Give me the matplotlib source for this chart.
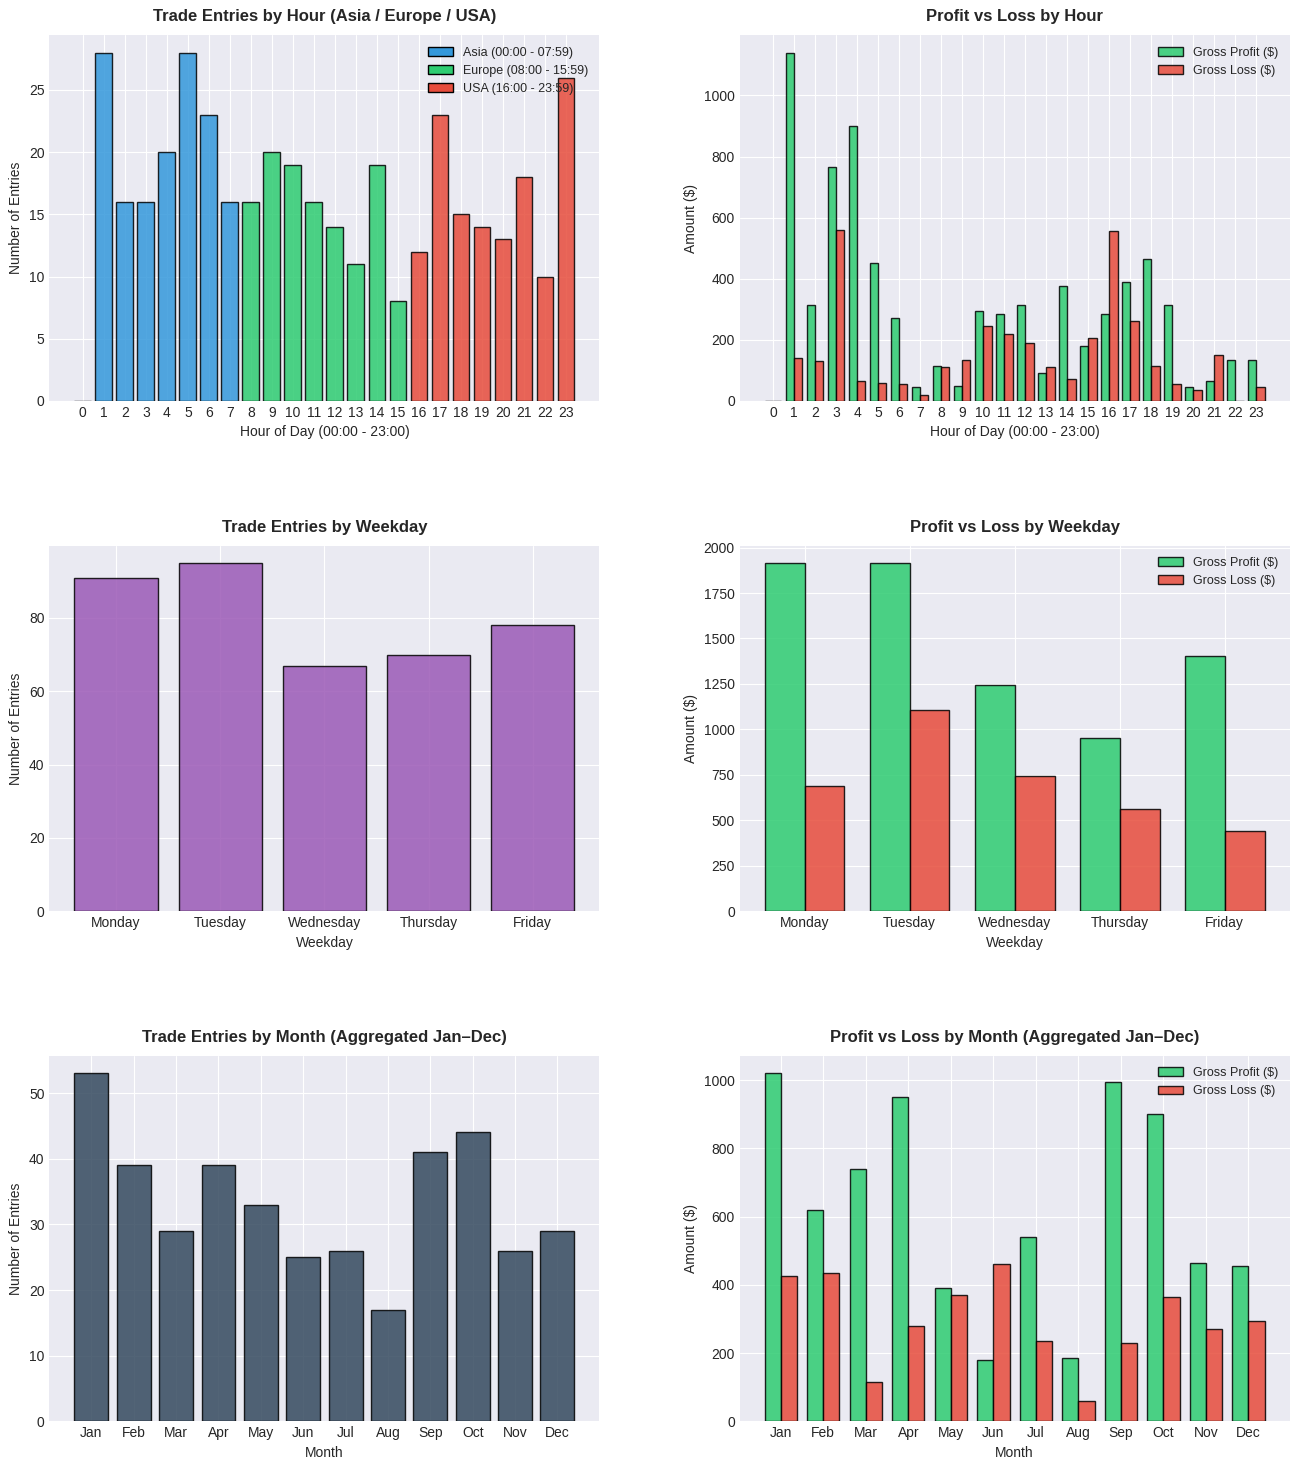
import matplotlib
matplotlib.use("Agg")
import matplotlib.pyplot as plt
import numpy as np
from matplotlib.patches import Patch

plt.style.use('seaborn-v0_8-darkgrid')

hours = list(range(24))
hour_entries = [0,28,16,16,20,28,23,16,16,20,19,16,14,11,19,8,12,23,15,14,13,18,10,26]
hour_profit = [0,1140,315,765,900,450,270,45,115,50,295,285,315,90,375,180,285,390,465,315,45,65,135,135]
hour_loss = [0,140,130,560,65,60,55,20,110,135,245,220,190,110,70,205,555,260,115,55,35,150,0,45]

weekdays = ["Monday","Tuesday","Wednesday","Thursday","Friday"]
wd_entries = [91,95,67,70,78]
wd_profit = [1915,1915,1245,955,1405]
wd_loss = [690,1105,745,560,440]

months = ["Jan","Feb","Mar","Apr","May","Jun","Jul","Aug","Sep","Oct","Nov","Dec"]
m_entries = [53,39,29,39,33,25,26,17,41,44,26,29]
m_profit = [1020,620,740,950,390,180,540,185,995,900,465,455]
m_loss = [425,435,115,280,370,460,235,60,230,365,270,295]

GREEN = '#2ecc71'; RED = '#e74c3c'; BLUE = '#3498db'
fig, axes = plt.subplots(3, 2, figsize=(13, 14.7), dpi=100)
plt.subplots_adjust(left=0.038, right=0.992, top=0.976, bottom=0.033, hspace=0.396, wspace=0.255)
tkw = dict(fontsize=12, fontweight='bold', pad=10)

ax = axes[0,0]
cols = [BLUE if h < 8 else GREEN if h < 16 else RED for h in hours]
ax.bar(hours, hour_entries, color=cols, edgecolor='black', alpha=0.85)
ax.legend(handles=[Patch(facecolor=BLUE, edgecolor='black', label='Asia (00:00 - 07:59)'),
                   Patch(facecolor=GREEN, edgecolor='black', label='Europe (08:00 - 15:59)'),
                   Patch(facecolor=RED, edgecolor='black', label='USA (16:00 - 23:59)')],
          fontsize=9, loc='upper right')
ax.set_xticks(hours)
ax.set_title('Trade Entries by Hour (Asia / Europe / USA)', **tkw)
ax.set_xlabel('Hour of Day (00:00 - 23:00)'); ax.set_ylabel('Number of Entries')

w = 0.4
x = np.arange(24)
ax = axes[0,1]
ax.bar(x - w/2, hour_profit, w, color=GREEN, edgecolor='black', alpha=0.85, label='Gross Profit ($)')
ax.bar(x + w/2, hour_loss, w, color=RED, edgecolor='black', alpha=0.85, label='Gross Loss ($)')
ax.set_xticks(x); ax.legend(fontsize=9, loc='upper right')
ax.set_title('Profit vs Loss by Hour', **tkw)
ax.set_xlabel('Hour of Day (00:00 - 23:00)'); ax.set_ylabel('Amount ($)')

ax = axes[1,0]
ax.bar(weekdays, wd_entries, color='#9b59b6', edgecolor='black', alpha=0.85)
ax.set_title('Trade Entries by Weekday', **tkw)
ax.set_xlabel('Weekday'); ax.set_ylabel('Number of Entries')

x = np.arange(5); w = 0.38
ax = axes[1,1]
ax.bar(x - w/2, wd_profit, w, color=GREEN, edgecolor='black', alpha=0.85, label='Gross Profit ($)')
ax.bar(x + w/2, wd_loss, w, color=RED, edgecolor='black', alpha=0.85, label='Gross Loss ($)')
ax.set_xticks(x); ax.set_xticklabels(weekdays); ax.legend(fontsize=9, loc='upper right')
ax.set_title('Profit vs Loss by Weekday', **tkw)
ax.set_xlabel('Weekday'); ax.set_ylabel('Amount ($)')

ax = axes[2,0]
ax.bar(months, m_entries, color='#34495e', edgecolor='black', alpha=0.85)
ax.set_title('Trade Entries by Month (Aggregated Jan–Dec)', **tkw)
ax.set_xlabel('Month'); ax.set_ylabel('Number of Entries')

x = np.arange(12)
ax = axes[2,1]
ax.bar(x - w/2, m_profit, w, color=GREEN, edgecolor='black', alpha=0.85, label='Gross Profit ($)')
ax.bar(x + w/2, m_loss, w, color=RED, edgecolor='black', alpha=0.85, label='Gross Loss ($)')
ax.set_xticks(x); ax.set_xticklabels(months); ax.legend(fontsize=9, loc='upper right')
ax.set_title('Profit vs Loss by Month (Aggregated Jan–Dec)', **tkw)
ax.set_xlabel('Month'); ax.set_ylabel('Amount ($)')

fig.savefig('out.png', dpi=100)
